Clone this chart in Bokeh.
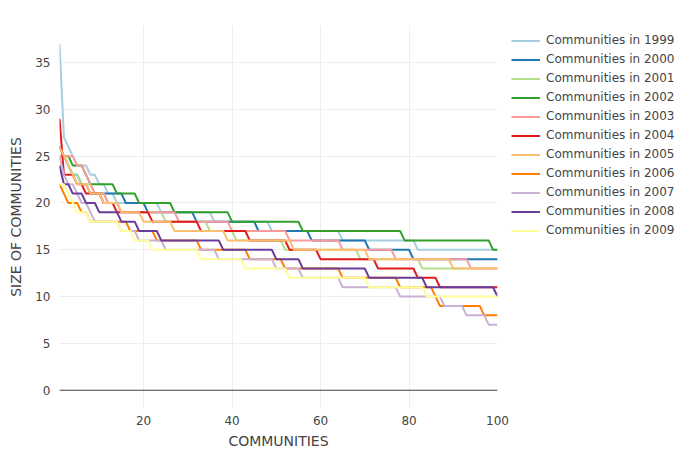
import numpy as np
from bokeh.plotting import figure
from bokeh.models import Range1d, FixedTicker, Span, Legend, LegendItem
from bokeh.embed import file_html
from bokeh.resources import INLINE

# Community rank on the x axis
ranks = list(range(1, 101))

# Sizes of communities (run-length encoded: size value, number of communities with that size)
sizes_1999 = [37, 27, 26, 25, 24, 23, 22, 21, 20, 19, 18, 17, 16, 15]
counts_1999 = [1, 1, 1, 1, 3, 2, 2, 2, 10, 12, 13, 16, 17, 19]

sizes_2000 = [26, 25, 24, 23, 22, 21, 20, 19, 18, 17, 16, 15, 14]
counts_2000 = [1, 1, 1, 2, 2, 8, 5, 11, 14, 12, 13, 10, 20]

sizes_2001 = [25, 24, 23, 22, 21, 20, 19, 18, 17, 16, 15, 14, 13]
counts_2001 = [2, 1, 2, 3, 3, 3, 10, 10, 6, 11, 17, 14, 18]

sizes_2002 = [26, 25, 24, 23, 22, 21, 20, 19, 18, 17, 16, 15]
counts_2002 = [1, 2, 3, 1, 6, 5, 8, 13, 16, 23, 20, 2]

sizes_2003 = [25, 24, 23, 22, 21, 20, 19, 18, 17, 16, 15, 14, 13]
counts_2003 = [4, 2, 1, 1, 3, 3, 13, 12, 13, 12, 12, 17, 7]

sizes_2004 = [29, 23, 22, 21, 20, 19, 18, 17, 16, 15, 14, 13, 12, 11]
counts_2004 = [1, 3, 2, 4, 3, 8, 11, 11, 9, 7, 13, 9, 5, 14]

sizes_2005 = [26, 25, 24, 23, 22, 21, 20, 19, 18, 17, 16, 15, 14, 13]
counts_2005 = [1, 1, 1, 1, 3, 3, 4, 5, 7, 12, 15, 17, 19, 11]

sizes_2006 = [22, 21, 20, 19, 18, 17, 16, 15, 14, 13, 12, 11, 10, 9, 8]
counts_2006 = [1, 1, 3, 2, 9, 6, 10, 11, 8, 13, 13, 8, 1, 10, 4]

sizes_2007 = [25, 23, 22, 21, 20, 19, 18, 17, 16, 15, 14, 13, 12, 11, 10, 9, 8, 7]
counts_2007 = [1, 1, 2, 1, 2, 1, 6, 4, 6, 12, 13, 6, 9, 13, 10, 5, 5, 3]

sizes_2008 = [24, 22, 21, 20, 19, 18, 17, 16, 15, 14, 13, 12, 11, 10]
counts_2008 = [1, 2, 3, 3, 5, 4, 5, 14, 12, 6, 15, 13, 16, 1]

sizes_2009 = [22, 21, 20, 19, 18, 17, 16, 15, 14, 13, 12, 11, 10]
counts_2009 = [2, 1, 1, 3, 7, 3, 4, 11, 10, 10, 18, 13, 17]

series_names = ["Communities in 1999", "Communities in 2000", "Communities in 2001",
                "Communities in 2002", "Communities in 2003", "Communities in 2004",
                "Communities in 2005", "Communities in 2006", "Communities in 2007",
                "Communities in 2008", "Communities in 2009"]
series_sizes = [sizes_1999, sizes_2000, sizes_2001, sizes_2002, sizes_2003, sizes_2004,
                sizes_2005, sizes_2006, sizes_2007, sizes_2008, sizes_2009]
series_counts = [counts_1999, counts_2000, counts_2001, counts_2002, counts_2003, counts_2004,
                 counts_2005, counts_2006, counts_2007, counts_2008, counts_2009]
colors = ['#a6cee3', '#1f78b4', '#b2df8a', '#33a02c', '#fb9a99', '#e31a1c',
          '#fdbf6f', '#ff7f00', '#cab2d6', '#6a3d9a', '#ffff99']

x_ticks = [20, 40, 60, 80, 100]
y_ticks = [0, 5, 10, 15, 20, 25, 30, 35]

FONT = "DejaVu Sans"
TXT = "#444444"

p = figure(frame_width=438, frame_height=383, output_backend="svg", toolbar_location=None,
           x_range=Range1d(1, 100), y_range=Range1d(-1.95, 38.95))
p.min_border_left = 59
p.min_border_right = 185
p.min_border_top = 25
p.min_border_bottom = 32
p.outline_line_color = None
p.background_fill_color = "white"
p.border_fill_color = "white"

items = []
for name, sz, ct, col in zip(series_names, series_sizes, series_counts, colors):
    ys = np.repeat(np.array(sz), np.array(ct))
    r = p.line(ranks, ys, line_color=col, line_width=2)
    items.append(LegendItem(label=name, renderers=[r]))

p.add_layout(Span(location=0, dimension="width", line_color="#444444", line_width=1))

for ax in (p.xaxis[0], p.yaxis[0]):
    ax.axis_line_color = None
    ax.major_tick_line_color = None
    ax.minor_tick_line_color = None
    ax.major_label_text_font = FONT
    ax.major_label_text_font_size = "12px"
    ax.major_label_text_color = TXT
    ax.axis_label_text_font = FONT
    ax.axis_label_text_font_size = "14px"
    ax.axis_label_text_font_style = "normal"
    ax.axis_label_text_color = TXT

p.xaxis.ticker = FixedTicker(ticks=x_ticks)
p.yaxis.ticker = FixedTicker(ticks=y_ticks)
p.xaxis.axis_label = "COMMUNITIES"
p.yaxis.axis_label = "SIZE OF COMMUNITIES"
p.xaxis.major_label_standoff = 1
p.xaxis.axis_label_standoff = 5
p.yaxis.major_label_standoff = 3
p.yaxis.axis_label_standoff = 8

p.xgrid.ticker = FixedTicker(ticks=x_ticks)
p.ygrid.ticker = FixedTicker(ticks=y_ticks)
p.xgrid.grid_line_color = "#eeeeee"
p.ygrid.grid_line_color = "#eeeeee"

legend = Legend(items=items, location=(14, 168.5))
legend.glyph_width = 29
legend.glyph_height = 19
legend.label_height = 19
legend.label_standoff = 6
legend.spacing = 0
legend.padding = 0
legend.margin = 0
legend.border_line_color = None
legend.background_fill_alpha = 0
legend.label_text_font = FONT
legend.label_text_font_size = "12px"
legend.label_text_color = TXT
p.add_layout(legend, "right")

open("out.html", "w").write(file_html(p, INLINE))
